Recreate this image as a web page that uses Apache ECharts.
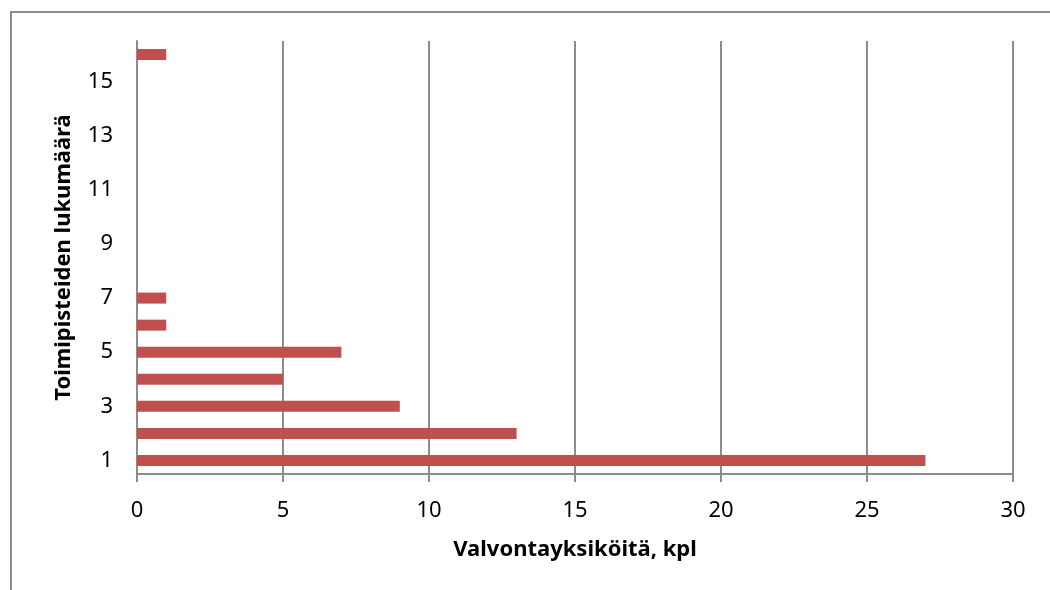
<!DOCTYPE html>
<html><head><meta charset="utf-8">
<script src="https://cdn.jsdelivr.net/npm/echarts@6/dist/echarts.min.js"></script>
<style>html,body{margin:0;padding:0;background:#fff}#c{width:1050px;height:590px}</style>
</head><body><div id="c"></div>
<script>
const categories = ['1','2','3','4','5','6','7','8','9','10','11','12','13','14','15','16'];
const values = [27, 13, 9, 5, 7, 1, 1, 0, 0, 0, 0, 0, 0, 0, 0, 1];
const xTitle = 'Valvontayksiköitä, kpl';
const yTitle = 'Toimipisteiden lukumäärä';
const FONT = 'Noto Sans';
const chart = echarts.init(document.getElementById('c'), null, {renderer:'canvas'});
chart.setOption({
  animation: false,
  backgroundColor: '#fff',
  graphic: [{type:'rect', shape:{x:11, y:12, width:1200, height:800}, style:{fill:'none', stroke:'#8c8c8c', lineWidth:2}, silent:true}],
  grid: {left:137, right:37, top:41, bottom:116, containLabel:false},
  xAxis: {
    type:'value', min:0, max:30, interval:5,
    name: xTitle, nameLocation:'middle', nameGap:65,
    nameTextStyle:{fontFamily:FONT, fontSize:22, fontWeight:'bold', color:'#000'},
    axisLine:{show:true, lineStyle:{color:'#8c8c8c', width:2}},
    axisTick:{show:true, length:8, lineStyle:{color:'#8c8c8c', width:2}},
    axisLabel:{fontFamily:FONT, fontSize:22, color:'#000', margin:26},
    splitLine:{show:true, lineStyle:{color:'#8c8c8c', width:2}}
  },
  yAxis: {
    type:'category', data:categories,
    name: yTitle, nameLocation:'middle', nameGap:62, nameRotate:90,
    nameTextStyle:{fontFamily:FONT, fontSize:22, fontWeight:'bold', color:'#000'},
    axisLine:{show:true, lineStyle:{color:'#8c8c8c', width:2}},
    axisTick:{show:false},
    axisLabel:{interval:1, fontFamily:FONT, fontSize:22, color:'#000', margin:24},
    splitLine:{show:false}
  },
  series: [{type:'bar', data:values, barWidth:11, itemStyle:{color:'#C0504D'}, z:3}]
});
</script></body></html>
